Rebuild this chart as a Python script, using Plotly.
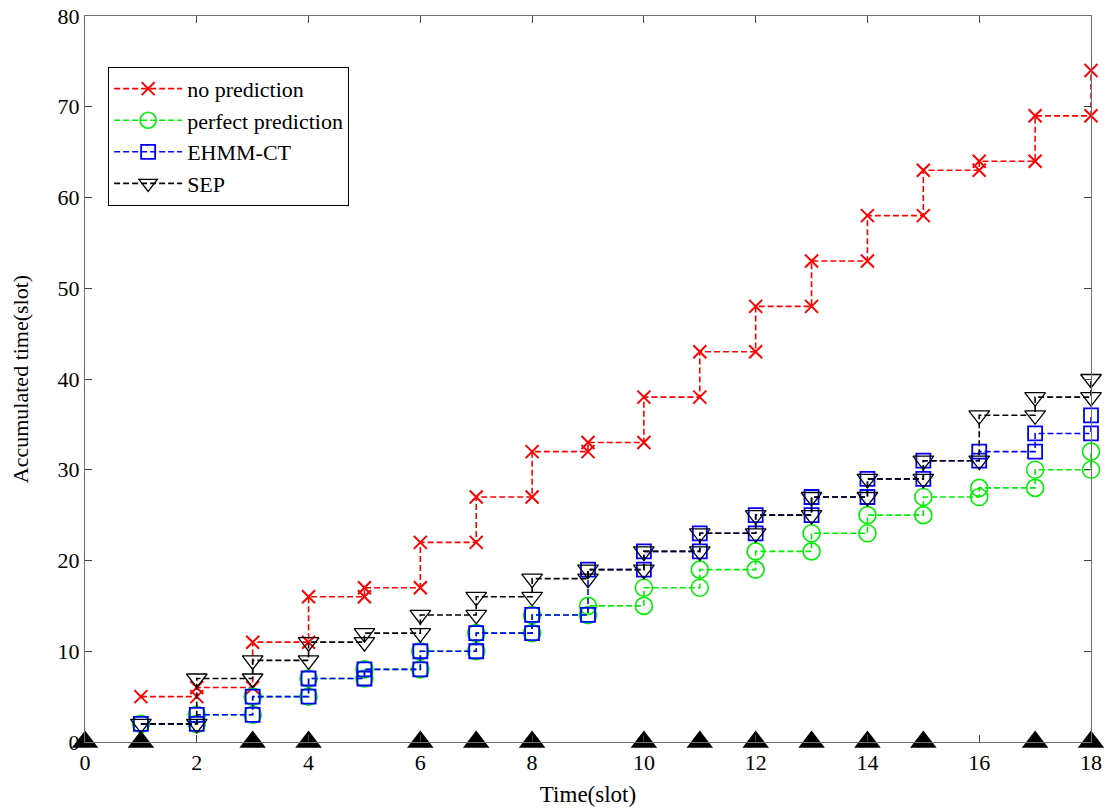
import plotly.graph_objects as go

# ---- data ----
slots = list(range(1, 19))
no_prediction = [5, 6, 11, 16, 17, 22, 27, 32, 33, 38, 43, 48, 53, 58, 63, 64, 69, 74]
perfect_prediction = [2, 3, 5, 7, 8, 10, 12, 14, 15, 17, 19, 21, 23, 25, 27, 28, 30, 32]
ehmm_ct = [2, 3, 5, 7, 8, 10, 12, 14, 19, 21, 23, 25, 27, 29, 31, 32, 34, 36]
sep = [2, 7, 9, 11, 12, 14, 16, 18, 19, 21, 23, 25, 27, 29, 31, 36, 38, 40]
event_slots = [0, 1, 3, 4, 6, 7, 8, 10, 11, 12, 13, 14, 15, 17, 18]
event_values = [0] * len(event_slots)

x_ticks = list(range(0, 19, 2))
y_ticks = list(range(0, 81, 10))


def staircase(xs, ys):
    px, py = [xs[0]], [ys[0]]
    for i in range(1, len(xs)):
        px += [xs[i], xs[i]]
        py += [ys[i - 1], ys[i]]
    return px, py


FONT = "Liberation Serif, Times New Roman, serif"
DASH = "6px,3px"

series = [
    ("no prediction", no_prediction, "#ff0000", dict(symbol="x-thin-open", size=13, line=dict(width=2, color="#ff0000"))),
    ("perfect prediction", perfect_prediction, "#00ee00", dict(symbol="circle-open", size=17, line=dict(width=1.6, color="#00ee00"))),
    ("EHMM-CT", ehmm_ct, "#0000ff", dict(symbol="square-open", size=14, line=dict(width=1.8, color="#0000ff"))),
    ("SEP", sep, "#000000", dict(symbol="triangle-down-open", size=18, line=dict(width=1.3, color="#000000"))),
]

fig = go.Figure()
for name, vals, color, marker in series:
    px, py = staircase(slots, vals)
    fig.add_trace(go.Scatter(
        x=px, y=py, mode="lines+markers", name=name,
        line=dict(color=color, width=1.6, dash=DASH),
        marker=marker, cliponaxis=False,
    ))

fig.add_trace(go.Scatter(
    x=event_slots, y=event_values, mode="markers", showlegend=False,
    marker=dict(symbol="triangle-up", size=23, color="#000000"),
    cliponaxis=False,
))

axis_common = dict(
    showgrid=False, zeroline=False, showline=True, mirror="ticks",
    linecolor="#707070", linewidth=1.3, ticks="inside", ticklen=7,
    tickcolor="#404040", tickwidth=1, automargin=False,
    tickfont=dict(family=FONT, size=22, color="#000000"),
)

fig.update_layout(
    width=1113, height=809,
    margin=dict(l=85, r=22, t=16, b=67),
    paper_bgcolor="white", plot_bgcolor="white",
    font=dict(family=FONT, color="#000000"),
    xaxis=dict(range=[0, 18], tickvals=x_ticks,
               title=dict(text="Time(slot)", font=dict(family=FONT, size=23), standoff=12),
               **axis_common),
    yaxis=dict(range=[0, 80], tickvals=y_ticks,
               title=dict(text="Accumulated time(slot)", font=dict(family=FONT, size=22), standoff=22),
               **axis_common),
    legend=dict(x=0.023, y=0.93, xanchor="left", yanchor="top",
                bordercolor="#000000", borderwidth=1, bgcolor="white",
                font=dict(family=FONT, size=22), tracegroupgap=0,
                itemwidth=68),
    showlegend=True,
)

fig.write_html("out.html")
